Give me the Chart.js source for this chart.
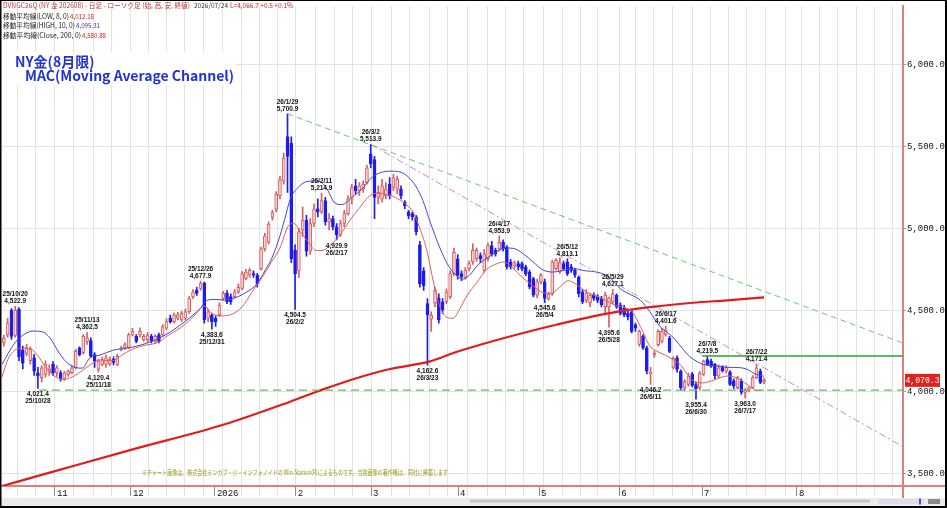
<!DOCTYPE html>
<html><head><meta charset="utf-8">
<script src="https://cdn.jsdelivr.net/npm/chart.js@4.4.1/dist/chart.umd.min.js"></script>
<style>html,body{margin:0;padding:0;background:#fff;overflow:hidden}canvas{display:block}</style>
</head><body>
<canvas id="c" width="947" height="508" style="width:947px;height:508px"></canvas>
<script>
// ---- daily candles (trading-day index 1..202), NY gold Aug-2026 contract ----
const openP = [
4299,4349,4500,4345,4505,4255,4235,4190,4208,4117,
4087,4107,4120,4168,4117,4117,4077,4107,4117,4147,
4269,4240,4309,4313,4228,4138,4168,4168,4170,4200,
4168,4259,4269,4269,4349,4339,4349,4319,4319,4339,
4309,4349,4349,4390,4450,4430,4450,4440,4450,4490,
4582,4622,4632,4665,4450,4470,4450,4471,4572,4602,
4582,4582,4612,4632,4693,4713,4723,4713,4753,4875,
4915,5067,5117,5198,5289,5561,5520,4865,4740,4990,
5050,4860,5030,5120,5100,5170,5040,5060,5010,4960,
5030,5090,5180,5260,5230,5240,5280,5455,5420,5190,
5180,5200,5270,5250,5240,5240,5160,5100,5090,5070,
4900,4740,4540,4445,4541,4572,4551,4551,4582,4723,
4814,4723,4700,4753,4794,4814,4834,4743,4814,4895,
4865,4875,4915,4885,4794,4770,4784,4784,4764,4733,
4693,4592,4673,4673,4572,4600,4753,4733,4784,4794,
4764,4743,4700,4612,4560,4545,4592,4582,4572,4521,
4520,4550,4592,4531,4511,4480,4491,4410,4290,4340,
4269,4110,4225,4289,4309,4350,4329,4150,4208,4127,
4022,4046,4107,4045,4026,4107,4198,4188,4168,4097,
4150,4127,4120,4067,4026,4067,3996,4010,4026,4087,
4127,4060];
const highP = [
4345,4450,4510,4522.9,4515,4280,4290,4275,4230,4150,
4160,4190,4165,4185,4160,4130,4125,4135,4160,4260,
4275,4350,4362.5,4330,4240,4200,4212,4225,4215,4215,
4230,4280,4300,4360,4388,4350,4392,4352,4362,4352,
4350,4360,4412,4448,4470,4482,4486,4492,4506,4582,
4626,4640,4677.9,4672,4505,4480,4465,4545,4615,4620,
4600,4625,4660,4735,4750,4755,4740,4725,4885,4970,
5040,5110,5225,5320,5460,5700.9,5560,4900,5000,5130,
5080,5060,5150,5180,5214.9,5190,5090,5075,5030,5050,
5110,5200,5270,5300,5280,5290,5385,5513.9,5440,5260,
5300,5280,5310,5330,5320,5260,5170,5110,5100,5080,
4920,4760,4570,4490,4640,4600,4570,4630,4740,4880,
4840,4740,4760,4800,4905,4880,4850,4870,4910,4920,
4880,4953.9,4930,4895,4810,4800,4800,4795,4775,4745,
4700,4690,4725,4690,4610,4805,4815,4820,4800,4813.1,
4780,4755,4710,4625,4625,4600,4605,4595,4585,4610,
4580,4627.1,4600,4545,4530,4500,4500,4420,4380,4350,
4280,4150,4250,4380,4390,4401.6,4340,4215,4220,4135,
4075,4115,4120,4060,4125,4195,4219.5,4200,4175,4165,
4160,4160,4130,4080,4095,4080,4020,4030,4100,4171.4,
4140,4085];
const lowP = [
4280,4335,4320,4335,4190,4140,4220,4170,4100,4021.4,
4060,4090,4100,4100,4095,4065,4070,4095,4110,4140,
4220,4230,4290,4210,4150,4120.4,4160,4150,4160,4165,
4160,4250,4260,4262,4340,4300,4335,4310,4305,4300,
4296,4300,4340,4380,4420,4420,4440,4430,4440,4480,
4570,4590,4620,4420,4430,4383.6,4400,4460,4560,4540,
4535,4575,4600,4625,4685,4700,4700,4640,4745,4860,
4905,5050,5100,5180,5270,5220,4790,4504.5,4700,4950,
4830,4840,5010,5070,5090,5020,4990,4990,4929.9,4950,
5010,5080,5150,5210,5200,5220,5270,5370,5060,5150,
5160,5180,5180,5230,5210,5180,5120,5060,5050,4960,
4640,4620,4162.6,4370,4520,4420,4480,4540,4570,4710,
4690,4680,4690,4740,4780,4800,4790,4730,4800,4830,
4830,4860,4860,4750,4750,4755,4745,4740,4710,4630,
4580,4575,4660,4545.6,4560,4590,4745,4725,4745,4710,
4730,4700,4580,4540,4545,4520,4560,4545,4520,4470,
4395.6,4540,4510,4470,4460,4440,4360,4370,4280,4260,
4110,4046.2,4210,4280,4300,4340,4240,4140,4120,4010,
4005,4035,4030,3955.4,4010,4100,4160,4150,4080,4085,
4120,4115,4040,4020,4015,3985,3963,4000,4020,4080,
4050,4050];
const closeP = [
4329,4420,4339,4500,4215,4175,4268,4258,4127,4097,
4147,4168,4140,4117,4147,4077,4117,4127,4147,4248,
4228,4339,4329,4218,4188,4188,4198,4208,4198,4180,
4218,4269,4289,4349,4370,4309,4370,4339,4349,4309,
4339,4309,4400,4430,4430,4471,4471,4480,4490,4571,
4612,4602,4662,4440,4490,4430,4430,4531,4602,4551,
4551,4612,4640,4723,4733,4743,4713,4662,4875,4955,
5026,5097,5208,5299,5430,5440,4815,4723,4980,5050,
4860,5030,5120,5100,5170,5040,5060,5010,4960,5030,
5090,5180,5250,5230,5260,5270,5370,5395,5190,5220,
5260,5240,5200,5310,5300,5200,5137,5077,5070,4980,
4660,4650,4470,4468,4622,4440,4501,4612,4723,4854,
4713,4703,4745,4784,4865,4865,4814,4844,4895,4844,
4844,4915,4875,4764,4764,4790,4764,4753,4723,4642,
4592,4673,4713,4572,4600,4794,4804,4790,4753,4723,
4743,4713,4600,4552,4605,4590,4572,4560,4531,4592,
4575,4600,4520,4480,4471,4460,4370,4390,4370,4270,
4127,4120,4235,4370,4370,4380,4248,4205,4137,4026,
4063,4097,4040,4020,4115,4188,4168,4157,4097,4147,
4130,4150,4046,4036,4087,3996,4010,4026,4087,4147,
4057,4070.3];

// ---- moving averages: [trading-day index, price] ----
const maLow8 = [[0.5,4090],[2.1,4200],[3.9,4255],[5.8,4268],[7.9,4265],[10,4220],[12.1,4150],[14.5,4095],[16.6,4077],[19,4090],[21.1,4120],[23.8,4165],[26.4,4195],[29.6,4190],[32.2,4225],[34.9,4260],[38.3,4285],[41.5,4300],[44.4,4345],[47.6,4390],[50.2,4440],[52.3,4490],[53.9,4525],[56,4480],[58.7,4465],[61.3,4475],[64,4520],[66.6,4610],[69.3,4700],[71.9,4800],[74,4880],[76.1,5010],[77.7,5030],[79.3,4980],[81.4,4920],[83.5,4865],[85.1,4865],[87.2,4895],[89.9,4960],[92.5,5050],[95.2,5130],[97.3,5190],[99.4,5215],[101.8,5210],[104.4,5190],[107.1,5150],[109.2,5100],[111,5000],[112.9,4860],[114.5,4680],[116.3,4520],[118.2,4455],[119.8,4450],[121.6,4510],[123.5,4590],[126.1,4670],[128.7,4750],[131.4,4784],[133,4794],[134.8,4774],[137.5,4713],[140.1,4663],[142.8,4615],[145.4,4600],[148,4640],[150.2,4680],[152.5,4655],[154.8,4615],[157.3,4590],[160,4560],[162.7,4530],[165.3,4515],[167.1,4490],[169.3,4400],[171.8,4280],[173.7,4248],[175.8,4225],[177.9,4198],[179.8,4168],[181.7,4107],[183.3,4067],[185.9,4055],[188.5,4070],[192.2,4097],[194.9,4085],[197.5,4046],[200.2,4008],[202,4012]];
const maHigh10 = [[0.5,4168],[3.9,4300],[6.6,4355],[8.7,4372],[11.1,4368],[13.2,4330],[15.3,4250],[17.4,4185],[19.8,4150],[21.7,4145],[23.8,4210],[26.4,4225],[29.9,4255],[33.6,4268],[37,4285],[39.6,4305],[43.1,4340],[46.2,4385],[48.9,4430],[51,4470],[52.9,4510],[54.7,4560],[56.8,4565],[59.5,4562],[62.1,4575],[65.3,4612],[67.9,4660],[70,4740],[71.9,4820],[74,4955],[75.3,5060],[76.7,5178],[78.8,5250],[80.9,5285],[83.5,5290],[85.1,5280],[86.7,5230],[88.3,5160],[90.4,5145],[93,5190],[95.7,5240],[97.8,5300],[99.9,5335],[103.1,5350],[105.7,5345],[107.9,5315],[110,5255],[111.8,5170],[113.7,5040],[116.3,4880],[118.2,4785],[120.3,4720],[122.4,4690],[124.2,4715],[126.1,4770],[128.2,4810],[130.9,4850],[133.5,4880],[135.6,4878],[138.3,4845],[140.9,4795],[143.6,4745],[146.2,4733],[149.4,4745],[152,4752],[154.8,4740],[157.3,4735],[160,4715],[162.1,4680],[164,4630],[166.7,4595],[169.3,4560],[171.8,4490],[174.5,4400],[176.6,4360],[178.5,4320],[180.6,4260],[182.4,4215],[184.3,4185],[186.4,4165],[189.1,4160],[192.2,4150],[195.6,4148],[197.8,4135],[199.6,4110],[202,4095]];
const maClose200 = [[0.5,3424],[14.5,3515],[34.6,3645],[59.2,3800],[76.7,3940],[85.4,4015],[94.4,4085],[103.1,4140],[113.4,4185],[120.8,4245],[129.5,4305],[138.3,4360],[147.3,4412],[156.8,4462],[165.8,4500],[174.5,4525],[183.2,4545],[192.2,4560],[202,4578]];

// ---- drawn trend / level lines: [index, price] ----
const trendFromJan29 = [[76,5700.9],[238.7,4299]];
const trendFromMar2 = [[98,5513.9],[238.7,3665]];
const supportLine = [[10.3,4010],[238.7,4010]];
const resistLine = [[185.6,4219.5],[238.7,4219.5]];
const lastPrice = 4070.3;

// ---- axis labels ----
const monthLabels = ['11','12','2026','2','3','4','5','6','7','8'];
const monthAt = [14.5,34.6,56.8,78.2,98.1,121.1,142.5,163.7,185.6,210.7];
const weekLines = [4.55,9.49,14.52,19.54,24.57,29.51,34.35,39.24,44.13,48.89,53.73,58.86,63.7,68.72,73.48,78.51,83.53,88.55,93.31,98.6,103.62,108.38,113.41,118.43,123.46,128.75,133.51,138.27,143.56,148.58,153.34,157.83,163.12,167.88,172.64,177.92,182.95,187.97,192.73,197.49,202.51,207.54,212.03,216.79,221.55,226.57,231.33,236.09];
const yTicks = [3500,4000,4500,5000,5500,6000];

// ---- peak / trough annotations: [index, price, 'hi'|'lo', date, price text] ----
const marks = [
[4,4522.9,'hi','25/10/20','4,522.9'],
[10,4021.4,'lo','25/10/28','4,021.4'],
[23,4362.5,'hi','25/11/13','4,362.5'],
[26,4120.4,'lo','25/11/18','4,120.4'],
[53,4677.9,'hi','25/12/26','4,677.9'],
[56,4383.6,'lo','25/12/31','4,383.6'],
[76,5700.9,'hi','26/1/29','5,700.9'],
[78,4504.5,'lo','26/2/2','4,504.5'],
[85,5214.9,'hi','26/2/11','5,214.9'],
[89,4929.9,'lo','26/2/17','4,929.9'],
[98,5513.9,'hi','26/3/2','5,513.9'],
[113,4162.6,'lo','26/3/23','4,162.6'],
[132,4953.9,'hi','26/4/17','4,953.9'],
[144,4545.6,'lo','26/5/4','4,545.6'],
[150,4813.1,'hi','26/5/12','4,813.1'],
[162,4627.1,'hi','26/5/29','4,627.1'],
[161,4395.6,'lo','26/5/28','4,395.6'],
[172,4046.2,'lo','26/6/11','4,046.2'],
[176,4401.6,'hi','26/6/17','4,401.6'],
[184,3955.4,'lo','26/6/30','3,955.4'],
[187,4219.5,'hi','26/7/8','4,219.5'],
[197,3963.0,'lo','26/7/17','3,963.0'],
[200,4171.4,'hi','26/7/22','4,171.4']
];

const headerMain = 'DVNGC26Q (NY 金 202608) - 日足 - ローソク足 (始, 高, 安, 終値)';
const headerDate = '2026/07/24';
const headerLast = 'L=4,066.7 +0.5 +0.1%';
const maLegend = [
 ['移動平均線(LOW, 8, 0)','4,012.18'],
 ['移動平均線(HIGH, 10, 0)','4,095.31'],
 ['移動平均線(Close, 200, 0)','4,580.88']
];
const titleLines = ['NY金(8月限)','MAC(Moving Average Channel)'];
const note = '※チャート画像は、株式会社ミンカブ・ジ・インフォノイドの Win-Station(R)によるものです。当該画像の著作権は、同社に帰属します';

// ---- styles ----
const UP_EDGE = '#d75f5f', UP_FILL = '#f7d3d3', DOWN = '#1d1df0';
const GRID = '#e3e3e3', AXIS_RED = '#e27d7d';
const JP = '"Noto Sans CJK JP","Noto Sans",sans-serif';
const MONO = '"Liberation Mono","DejaVu Sans Mono",monospace';

const idx = openP.map((_, i) => i + 1);
const up = openP.map((o, i) => closeP[i] >= o);
const toXY = arr => arr.map(p => ({x: p[0], y: p[1]}));

const xTicks = [];
monthAt.forEach((v, i) => xTicks.push({value: v, label: monthLabels[i], grid: weekLines.some(w => Math.abs(w - v) < 0.7)}));
weekLines.forEach(w => { if (!monthAt.some(m => Math.abs(m - w) < 0.7)) xTicks.push({value: w, label: '', grid: true}); });
xTicks.sort((a, b) => a.value - b.value);

const fmt1 = v => v.toLocaleString('en-US', {minimumFractionDigits: 1, maximumFractionDigits: 1});

const overlay = {
  id: 'overlay',
  afterDatasetsDraw(chart) {
    const c = chart.ctx, xs = chart.scales.x, ys = chart.scales.y;
    c.save();
    c.fillStyle = '#111';
    c.font = 'bold 6.5px "Liberation Sans",sans-serif';
    c.textAlign = 'center';
    c.textBaseline = 'middle';
    marks.forEach(m => {
      const px = xs.getPixelForValue(m[0]), py = ys.getPixelForValue(m[1]);
      if (m[2] === 'hi') { c.fillText(m[3], px, py - 12); c.fillText(m[4], px, py - 5); }
      else { c.fillText(m[4], px, py + 6); c.fillText(m[3], px, py + 13); }
    });
    c.restore();
  },
  afterDraw(chart) {
    const c = chart.ctx, ys = chart.scales.y, ca = chart.chartArea;
    c.save();
    // title box
    c.fillStyle = '#fff';
    c.fillRect(2, 52, 234, 33);
    c.fillStyle = '#2233d6';
    c.font = 'bold 14px ' + JP;
    c.textAlign = 'left'; c.textBaseline = 'alphabetic';
    c.fillText(titleLines[0], 15, 66.5, 84);
    c.fillText(titleLines[1], 25, 81, 210);
    // header
    c.font = '7px ' + JP;
    c.textBaseline = 'middle';
    c.fillStyle = '#b03a3a'; c.fillText(headerMain, 3, 5.5, 187);
    c.fillStyle = '#333'; c.fillText(headerDate, 194, 5.5, 34);
    c.fillStyle = '#d42020'; c.fillText(headerLast, 230, 5.5, 63);
    const legendY = [16, 25.8, 35.6], valX = [70, 76, 82], labW = [66, 72, 78], valCol = ['#d42020', '#3535c8', '#d42020'];
    maLegend.forEach((l, i) => {
      c.fillStyle = '#222'; c.fillText(l[0], 3, legendY[i], labW[i]);
      c.fillStyle = valCol[i]; c.fillText(l[1], valX[i], legendY[i], 24);
    });
    // copyright note
    c.fillStyle = '#9a9a1a';
    c.font = '7px ' + JP;
    c.fillText(note, 142, 472, 306);
    // last price box
    const py = ys.getPixelForValue(lastPrice);
    c.fillStyle = '#e0211d';
    c.fillRect(905, py - 6.5, 35, 13);
    c.fillStyle = '#fff';
    c.font = '9px ' + MONO;
    c.textAlign = 'center';
    c.fillText(fmt1(lastPrice), 922.5, py + 0.5, 34);
    // axis red lines extending
    c.fillStyle = AXIS_RED;
    c.fillRect(ca.right, ca.bottom - 1, 947 - ca.right, 2);
    c.fillRect(ca.right - 1, ca.bottom, 2, 12);
    // bottom strip
    c.fillStyle = '#ebebeb';
    c.fillRect(0, 498, 947, 8);
    c.fillStyle = '#c6c6c6';
    c.fillRect(470, 499.5, 400, 3);
    c.fillStyle = '#dcdcec';
    c.fillRect(878, 499, 46, 5);
    c.fillStyle = '#4050d0';
    c.fillRect(919, 498.5, 2, 6);
    c.fillStyle = '#8a8a8a';
    c.fillRect(928, 499, 12, 5);
    // frame
    c.fillStyle = '#000';
    c.fillRect(0, 0, 947, 1);
    c.fillRect(0, 0, 1.5, 508);
    c.fillRect(945, 0, 2, 508);
    c.fillRect(0, 506, 947, 2);
    c.restore();
  }
};

const lineDs = (data, color, width, extra) => Object.assign({
  type: 'line', data: toXY(data), borderColor: color, borderWidth: width,
  pointRadius: 0, fill: false, cubicInterpolationMode: 'monotone', order: 2
}, extra || {});

new Chart(document.getElementById('c'), {
  type: 'bar',
  data: {
    datasets: [
      { type: 'bar', label: 'wick', data: idx.map((x, i) => ({x, y: [lowP[i], highP[i]]})),
        backgroundColor: up.map(u => u ? UP_EDGE : DOWN), barThickness: 1, grouped: false, order: 10 },
      { type: 'bar', label: 'body', data: idx.map((x, i) => ({x, y: [openP[i], closeP[i]]})),
        backgroundColor: up.map(u => u ? UP_FILL : DOWN), borderColor: up.map(u => u ? UP_EDGE : DOWN),
        borderWidth: 1, borderSkipped: false, barThickness: 3, minBarLength: 1, grouped: false, order: 9 },
      lineDs(maClose200, '#e21c1c', 2.2, {order: 3}),
      lineDs(maLow8, '#d8615f', 1),
      lineDs(maHigh10, '#4848d0', 1),
      lineDs(trendFromJan29, '#6cc86c', 1, {borderDash: [6, 4], order: 1}),
      lineDs(trendFromMar2, '#c78ac6', 1, {borderDash: [7, 3, 2, 3], order: 1}),
      lineDs(supportLine, '#5cc25c', 1.3, {borderDash: [8, 5], order: 1}),
      lineDs(resistLine, '#2aa52a', 1.5, {order: 1})
    ]
  },
  options: {
    responsive: false, animation: false, events: [],
    layout: {padding: {left: 2, right: 2, top: 2, bottom: 2}},
    plugins: {legend: {display: false}, tooltip: {enabled: false}},
    scales: {
      x: {
        type: 'linear', min: 0.505, max: 238.74, offset: false, bounds: 'data',
        afterBuildTicks: a => { a.ticks = xTicks.map(t => ({value: t.value})); },
        afterFit: s => { s.height = 20; },
        grid: {
          offset: false, drawOnChartArea: true, tickLength: 10,
          color: ctx => (xTicks[ctx.index] && xTicks[ctx.index].grid) ? GRID : 'rgba(0,0,0,0)',
          tickColor: ctx => (xTicks[ctx.index] && xTicks[ctx.index].label) ? '#8c8c8c' : '#e0e0e0'
        },
        border: {color: AXIS_RED, width: 2},
        ticks: {
          autoSkip: false, maxRotation: 0, minRotation: 0, align: 'start', labelOffset: 2, padding: -8,
          color: '#111', font: {family: MONO, size: 9},
          callback: (v, i) => xTicks[i] ? xTicks[i].label : ''
        }
      },
      y: {
        type: 'linear', position: 'right', min: 3424.2, max: 6357.6, bounds: 'data',
        afterBuildTicks: a => { a.ticks = yTicks.map(v => ({value: v})); },
        afterFit: s => { s.width = 42; },
        grid: {color: GRID, tickLength: 3, tickColor: '#9a9a9a'},
        border: {color: AXIS_RED, width: 2},
        ticks: {color: '#111', font: {family: MONO, size: 9}, padding: 1, callback: v => fmt1(v)}
      }
    }
  },
  plugins: [overlay]
});
</script>
</body></html>
